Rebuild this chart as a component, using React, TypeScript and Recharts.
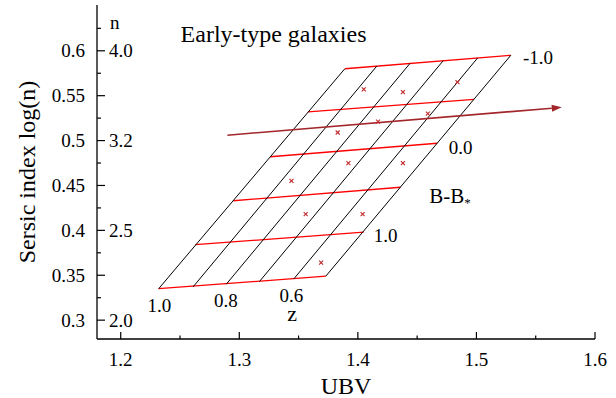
import React from 'react';
import { ScatterChart, Scatter, XAxis, YAxis, ReferenceLine } from 'recharts';

// axis ticks
const xTicks = [1.2, 1.25, 1.3, 1.35, 1.4, 1.45, 1.5, 1.55, 1.6];
const yTicks = [0.3, 0.325, 0.35, 0.375, 0.4, 0.425, 0.45, 0.475, 0.5, 0.525, 0.55, 0.575, 0.6, 0.625];
const rightTicks = [0.3, 0.35, 0.4, 0.45, 0.5, 0.55, 0.6, 0.63];
// Sersic n shown inside the left axis
const nTickLabels: Record<string, string> = { '0.6': '4.0', '0.5': '3.2', '0.4': '2.5', '0.3': '2.0' };

// lines of constant B-B* (red), endpoints [UBV, log n]
const bValues = [-1.0, -0.5, 0.0, 0.5, 1.0, 1.5];
const bStart = [[1.389, 0.580], [1.358, 0.532], [1.326, 0.482], [1.295, 0.433], [1.263, 0.384], [1.232, 0.335]];
const bEnd = [[1.529, 0.595], [1.498, 0.546], [1.467, 0.497], [1.436, 0.448], [1.405, 0.398], [1.373, 0.349]];

// lines of constant redshift z (black)
const zValues = [1.0, 0.9, 0.8, 0.7, 0.6, 0.5];
const zStart = [[1.232, 0.335], [1.261, 0.337], [1.289, 0.340], [1.317, 0.343], [1.346, 0.346], [1.373, 0.349]];
const zEnd = [[1.389, 0.580], [1.416, 0.583], [1.444, 0.586], [1.472, 0.589], [1.501, 0.592], [1.529, 0.595]];

// observed galaxies
const galUBV = [1.405, 1.438, 1.484, 1.383, 1.417, 1.459, 1.392, 1.438, 1.344, 1.356, 1.404, 1.369];
const galLogN = [0.557, 0.554, 0.565, 0.509, 0.521, 0.530, 0.475, 0.475, 0.455, 0.418, 0.418, 0.364];

// evolution arrow
const arrowFrom = [1.290, 0.506];
const arrowTo = [1.572, 0.537];

// text labels (left edge, baseline)
const notes = [
  { x: 1.2505, y: 0.6099, text: 'Early-type galaxies' },
  { x: 1.191, y: 0.6248, text: 'n' },
  { x: 1.5393, y: 0.5851, text: '-1.0' },
  { x: 1.4766, y: 0.4856, text: '0.0' },
  { x: 1.4134, y: 0.3872, text: '1.0' },
  { x: 1.4603, y: 0.4300, text: 'B-B*' },
  { x: 1.2225, y: 0.3086, text: '1.0' },
  { x: 1.2786, y: 0.3141, text: '0.8' },
  { x: 1.334, y: 0.3204, text: '0.6' },
  { x: 1.3404, y: 0.2995, text: 'z' },
];

const galaxies = galUBV.map((x, i) => ({ x, y: galLogN[i] }));

const FONT = "'Liberation Serif', 'Times New Roman', 'DejaVu Serif', serif";
const txt = { fontFamily: FONT };
const isMajorX = (v: number) => Math.abs(v * 10 - Math.round(v * 10)) < 1e-6;
const isMajorY = (v: number) => Math.abs(v * 20 - Math.round(v * 20)) < 1e-6;

const BottomTick = (p: any) => {
  const v = p.payload.value;
  const major = isMajorX(v);
  return (
    <g>
      <line x1={p.x} x2={p.x} y1={p.y} y2={p.y - (major ? 7 : 3.5)} stroke="#000" strokeWidth={1.2} />
      {major && (
        <text x={p.x} y={p.y + 26.5} textAnchor="middle" fontSize={19} style={txt} fill="#000">
          {String(v)}
        </text>
      )}
    </g>
  );
};

const TopTick = (p: any) => {
  const major = isMajorX(p.payload.value);
  return <line x1={p.x} x2={p.x} y1={p.y} y2={p.y + (major ? 7 : 3.5)} stroke="#000" strokeWidth={1.2} />;
};

const LeftTick = (p: any) => {
  const v = p.payload.value;
  const major = isMajorY(v);
  const n = nTickLabels[String(v)];
  return (
    <g>
      <line x1={p.x} x2={p.x + (major ? 8 : 4)} y1={p.y} y2={p.y} stroke="#000" strokeWidth={1.2} />
      {major && (
        <text x={p.x - 12} y={p.y + 6.6} textAnchor="end" fontSize={19} style={txt} fill="#000">
          {String(v)}
        </text>
      )}
      {n && (
        <text x={p.x + 12} y={p.y + 6.6} fontSize={19} style={txt} fill="#000">
          {n}
        </text>
      )}
    </g>
  );
};

const RightTick = (p: any) => (
  <line x1={p.x} x2={p.x - 7.5} y1={p.y} y2={p.y} stroke="#000" strokeWidth={1.2} />
);

const Cross = (p: any) => {
  const s = 2;
  return (
    <g stroke="#c0282a" strokeWidth={1.1}>
      <line x1={p.cx - s} y1={p.cy - s} x2={p.cx + s} y2={p.cy + s} />
      <line x1={p.cx - s} y1={p.cy + s} x2={p.cx + s} y2={p.cy - s} />
    </g>
  );
};

const Note = (p: any) => {
  const t = p.payload.text;
  if (t === 'B-B*') {
    return (
      <text x={p.cx} y={p.cy} fontSize={21} style={txt} fill="#000">
        B-B<tspan fontSize={13} dy={4}>*</tspan>
      </text>
    );
  }
  const size = t === 'Early-type galaxies' ? 24 : t === 'z' ? 22 : 19;
  return (
    <text x={p.cx} y={p.cy} fontSize={size} style={txt} fill="#000">
      {t}
    </text>
  );
};

const Arrow = (p: any) => {
  const { x1, y1, x2, y2 } = p;
  const dx = x2 - x1;
  const dy = y2 - y1;
  const len = Math.hypot(dx, dy);
  const ux = dx / len;
  const uy = dy / len;
  const bx = x2 - ux * 10;
  const by = y2 - uy * 10;
  const w = 3.5;
  return (
    <g>
      <line x1={x1} y1={y1} x2={bx} y2={by} stroke="#a3262a" strokeWidth={1.6} />
      <polygon
        points={`${x2},${y2} ${bx - uy * w},${by + ux * w} ${bx + uy * w},${by - ux * w}`}
        fill="#a3262a"
      />
    </g>
  );
};

const XTitle = (p: any) => {
  const vb = p.viewBox;
  return (
    <text x={vb.x + vb.width / 2} y={vb.y + vb.height - 4} textAnchor="middle" fontSize={24} style={txt} fill="#000">
      UBV
    </text>
  );
};

const YTitle = (p: any) => {
  const vb = p.viewBox;
  const x = vb.x + 35;
  const y = vb.y + vb.height / 2;
  return (
    <text x={x} y={y} transform={`rotate(-90 ${x} ${y})`} textAnchor="middle" fontSize={24} style={txt} fill="#000">
      Sersic index log(n)
    </text>
  );
};

export default function App() {
  return (
    <div style={{ position: 'absolute', left: 0, top: 0, background: '#fff' }}>
      <ScatterChart width={616} height={398} margin={{ top: 5, right: 21, left: 0, bottom: 0 }}>
        <XAxis
          xAxisId={0}
          type="number"
          dataKey="x"
          domain={[1.18, 1.6]}
          ticks={xTicks}
          interval={0}
          height={59}
          tickSize={0}
          tickMargin={0}
          tickLine={false}
          tick={BottomTick}
          axisLine={{ stroke: '#000', strokeWidth: 1.3 }}
          label={{ content: XTitle }}
        />
        <XAxis
          xAxisId="top"
          orientation="top"
          type="number"
          domain={[1.18, 1.6]}
          ticks={xTicks}
          interval={0}
          height={0}
          tickSize={0}
          tickMargin={0}
          tickLine={false}
          tick={TopTick}
          axisLine={{ stroke: '#000', strokeWidth: 1.3 }}
        />
        <YAxis
          yAxisId={0}
          type="number"
          dataKey="y"
          domain={[0.279, 0.651]}
          ticks={yTicks}
          interval={0}
          width={97}
          tickSize={0}
          tickMargin={0}
          tickLine={false}
          tick={LeftTick}
          axisLine={{ stroke: '#000', strokeWidth: 1.3 }}
          label={{ content: YTitle }}
        />
        <YAxis
          yAxisId="right"
          orientation="right"
          type="number"
          domain={[0.279, 0.651]}
          ticks={rightTicks}
          interval={0}
          width={0}
          tickSize={0}
          tickMargin={0}
          tickLine={false}
          tick={RightTick}
          axisLine={{ stroke: '#000', strokeWidth: 1.3 }}
        />

        {bValues.map((b, i) => (
          <ReferenceLine
            key={`b${b}`}
            segment={[{ x: bStart[i][0], y: bStart[i][1] }, { x: bEnd[i][0], y: bEnd[i][1] }]}
            stroke="#ff0000"
            strokeWidth={1.3}
            ifOverflow="visible"
          />
        ))}
        {zValues.map((z, i) => (
          <ReferenceLine
            key={`z${z}`}
            segment={[{ x: zStart[i][0], y: zStart[i][1] }, { x: zEnd[i][0], y: zEnd[i][1] }]}
            stroke="#000"
            strokeWidth={1}
            ifOverflow="visible"
          />
        ))}
        <ReferenceLine
          segment={[{ x: arrowFrom[0], y: arrowFrom[1] }, { x: arrowTo[0], y: arrowTo[1] }]}
          shape={Arrow}
          ifOverflow="visible"
        />

        <Scatter data={galaxies} shape={Cross} isAnimationActive={false} />
        <Scatter data={notes} shape={Note} isAnimationActive={false} />
      </ScatterChart>
    </div>
  );
}
